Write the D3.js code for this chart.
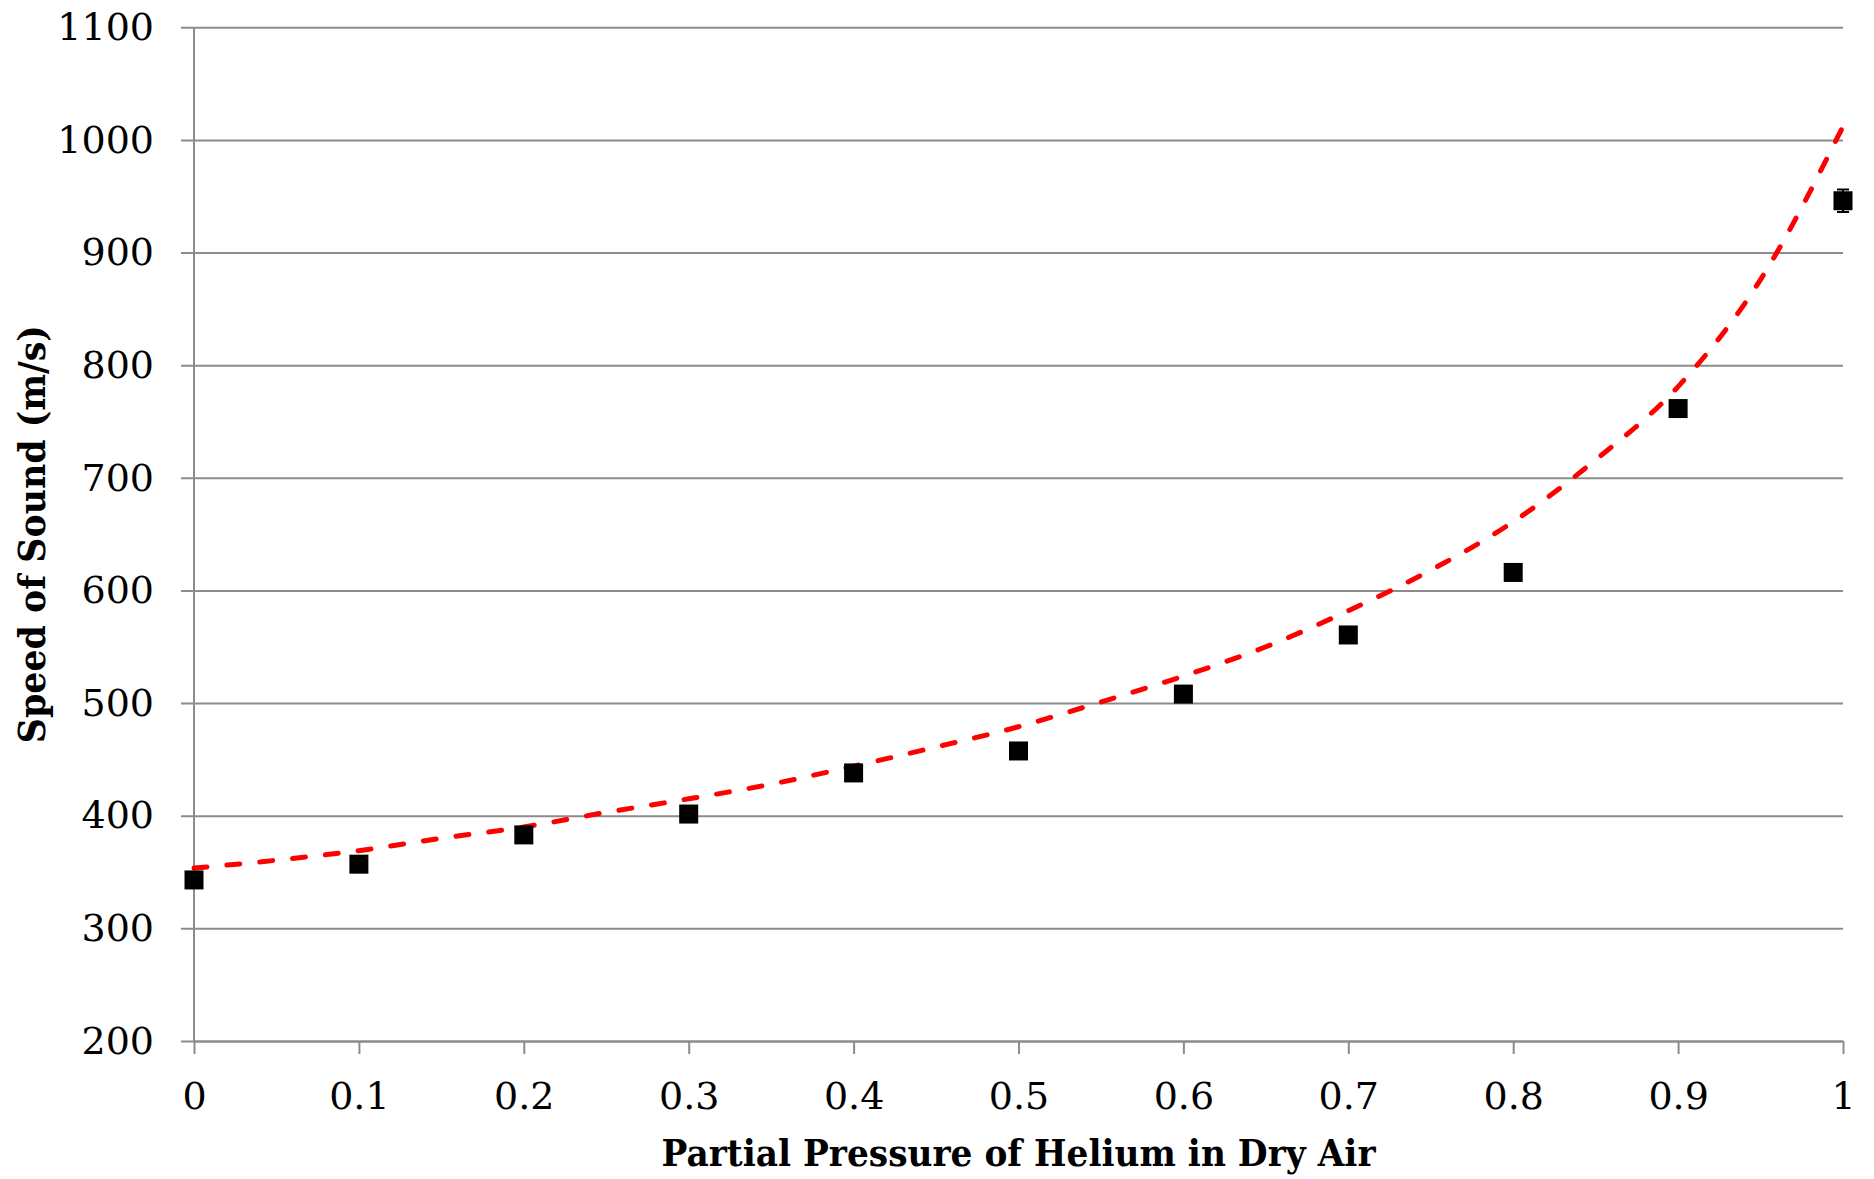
<!DOCTYPE html>
<html>
<head>
<meta charset="utf-8">
<script src="https://cdn.jsdelivr.net/npm/d3@7"></script>
<style>
  body { margin: 0; background: #fff; }
  svg { display: block; }
</style>
</head>
<body>
<svg width="1874" height="1179"></svg>
<script>
// measured points
var pressure = [0, 0.1, 0.2, 0.3, 0.4, 0.5, 0.6, 0.7, 0.8, 0.9, 1];
var speed = [343, 357, 383, 401.5, 438, 457.5, 508, 560.5, 616, 761.5, 946];
var speedErr = [4, 4, 4, 4, 4, 4, 4, 4, 4, 4, 10];

// dashed red curve
var curveX = [0, 0.05, 0.1, 0.15, 0.2, 0.25, 0.3, 0.35, 0.4, 0.45, 0.5,
  0.55, 0.6, 0.65, 0.7, 0.75, 0.8, 0.85, 0.9, 0.95, 1];
var curveY = [353.5, 360.5, 369, 380, 390, 403, 415, 428, 444, 461, 479,
  501, 524, 550, 582, 618, 661, 716, 781, 876, 1012];

var xTicks = [0, 0.1, 0.2, 0.3, 0.4, 0.5, 0.6, 0.7, 0.8, 0.9, 1];
var yTicks = [200, 300, 400, 500, 600, 700, 800, 900, 1000, 1100];

var xTitle = 'Partial Pressure of Helium in Dry Air';
var yTitle = 'Speed of Sound (m/s)';

var svg = d3.select('svg');
// note: "top" is taken by window.top, so plot edges get their own names
var plotL = 194, plotR = 1843, plotT = 27.3, plotB = 1041;
var gridColor = '#8c8c8c';
var font = 'DejaVu Serif';

var x = d3.scaleLinear()
  .domain([0, 1])
  .range([plotL, plotR]);

var y = d3.scaleLinear()
  .domain([200, 1100])
  .range([plotB, plotT]);

svg.append('rect')
  .attr('width', 1874)
  .attr('height', 1179)
  .attr('fill', '#fff');

// y axis with gridlines stretched across
var yAxis = svg.append('g')
  .attr('transform', 'translate(' + (plotL - 13) + ',0)')
  .call(d3.axisLeft(y)
    .tickValues(yTicks)
    .tickSizeInner(-(plotR - plotL + 13))
    .tickSizeOuter(0)
    .tickPadding(27)
    .tickFormat(d3.format('d')));
yAxis.select('.domain').remove();
yAxis.selectAll('line')
  .attr('stroke', gridColor)
  .attr('stroke-width', 2);
yAxis.selectAll('text')
  .attr('font-family', font)
  .attr('font-size', 38)
  .attr('fill', '#000');

var xAxis = svg.append('g')
  .attr('transform', 'translate(0,' + plotB + ')')
  .call(d3.axisBottom(x)
    .tickValues(xTicks)
    .tickSize(13)
    .tickSizeOuter(0)
    .tickPadding(28)
    .tickFormat(function (d) { return d3.format('')(d); }));
xAxis.select('.domain')
  .attr('stroke', gridColor)
  .attr('stroke-width', 2);
xAxis.selectAll('line')
  .attr('stroke', gridColor)
  .attr('stroke-width', 2);
xAxis.selectAll('text')
  .attr('font-family', font)
  .attr('font-size', 38)
  .attr('fill', '#000');

svg.append('line')
  .attr('x1', x(0))
  .attr('x2', x(0))
  .attr('y1', y(1100))
  .attr('y2', y(200))
  .attr('stroke', gridColor)
  .attr('stroke-width', 2);

// fit curve
var line = d3.line()
  .x(function (d, i) { return x(curveX[i]); })
  .y(function (d) { return y(d); })
  .curve(d3.curveMonotoneX);

svg.append('path')
  .datum(curveY)
  .attr('d', line)
  .attr('fill', 'none')
  .attr('stroke', '#ff0000')
  .attr('stroke-width', 5)
  .attr('stroke-linecap', 'round')
  .attr('stroke-dasharray', '13,20');

// error bars
var err = svg.append('g')
  .selectAll('g')
  .data(speed)
  .enter()
  .append('g')
  .attr('stroke', '#000')
  .attr('stroke-width', 2);
err.append('line')
  .attr('x1', function (d, i) { return x(pressure[i]); })
  .attr('x2', function (d, i) { return x(pressure[i]); })
  .attr('y1', function (d, i) { return y(d - speedErr[i]); })
  .attr('y2', function (d, i) { return y(d + speedErr[i]); });
err.selectAll('.cap')
  .data(function (d, i) { return [[i, d - speedErr[i]], [i, d + speedErr[i]]]; })
  .enter()
  .append('line')
  .attr('class', 'cap')
  .attr('x1', function (d) { return x(pressure[d[0]]) - 6; })
  .attr('x2', function (d) { return x(pressure[d[0]]) + 6; })
  .attr('y1', function (d) { return y(d[1]); })
  .attr('y2', function (d) { return y(d[1]); });

// markers
var size = 19;
svg.append('g')
  .selectAll('rect')
  .data(speed)
  .enter()
  .append('rect')
  .attr('x', function (d, i) { return x(pressure[i]) - size / 2; })
  .attr('y', function (d) { return y(d) - size / 2; })
  .attr('width', size)
  .attr('height', size)
  .attr('fill', '#000');

// axis titles
svg.append('text')
  .attr('x', (plotL + plotR) / 2)
  .attr('y', 1166)
  .attr('text-anchor', 'middle')
  .attr('font-family', font)
  .attr('font-weight', 'bold')
  .attr('font-size', 37)
  .attr('textLength', 714)
  .attr('lengthAdjust', 'spacingAndGlyphs')
  .text(xTitle);

svg.append('text')
  .attr('transform', 'translate(45,' + ((plotT + plotB) / 2) + ') rotate(-90)')
  .attr('text-anchor', 'middle')
  .attr('font-family', font)
  .attr('font-weight', 'bold')
  .attr('font-size', 37)
  .attr('textLength', 418)
  .attr('lengthAdjust', 'spacingAndGlyphs')
  .text(yTitle);
</script>
</body>
</html>
